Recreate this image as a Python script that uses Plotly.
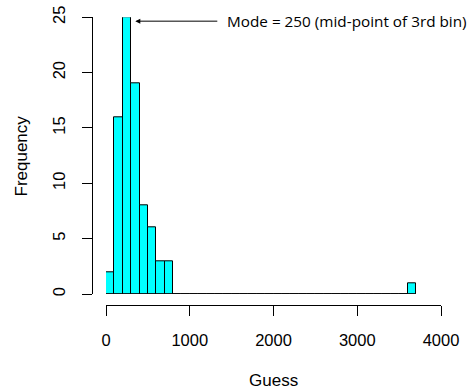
import plotly.graph_objects as go

# Data: histogram of guesses, bin width 100 starting at 0
bin_start = 0
bin_width = 100
counts = [2, 16, 25, 19, 8, 6, 3, 3,
          0, 0, 0, 0, 0, 0, 0, 0, 0, 0,
          0, 0, 0, 0, 0, 0, 0, 0, 0, 0,
          0, 0, 0, 0, 0, 0, 0, 0, 1]
x_ticks = [0, 1000, 2000, 3000, 4000]
y_ticks = [0, 5, 10, 15, 20, 25]
mode_value = 250
mode_count = 25
annotation_text = "Mode = 250 (mid-point of 3rd bin)"

edges = [bin_start + i * bin_width for i in range(len(counts) + 1)]
centers = [(edges[i] + edges[i + 1]) / 2 for i in range(len(counts))]

W, H = 471, 389
def px_x(p):
    return p / W
def px_y(p):
    return (H - p) / H

fig = go.Figure()
# baseline for zero-height bins (R draws them as flat rectangles)
fig.add_trace(go.Scatter(x=[edges[0], edges[-1]], y=[0, 0], mode="lines",
                         line=dict(color="black", width=1), cliponaxis=False,
                         hoverinfo="skip", showlegend=False))
fig.add_trace(go.Bar(x=centers, y=counts, width=bin_width,
                     marker=dict(color="#00FFFF", line=dict(color="black", width=1)),
                     cliponaxis=False, showlegend=False))

axis_font = dict(family="Liberation Sans, Arial, sans-serif", size=16.5, color="black")

fig.update_layout(
    width=W, height=H,
    margin=dict(l=0, r=0, t=0, b=0),
    paper_bgcolor="white", plot_bgcolor="white",
    bargap=0,
    xaxis=dict(domain=[px_x(106), px_x(441)], range=[x_ticks[0], x_ticks[-1]],
               anchor="free", position=px_y(305), automargin=False,
               tickvals=x_ticks, ticks="outside", ticklen=10, tickwidth=1,
               tickcolor="black", showline=True, linecolor="black", linewidth=1,
               showgrid=False, zeroline=False, tickfont=axis_font,
               ticklabelstandoff=10),
    yaxis=dict(domain=[px_y(294), px_y(17.3)], range=[y_ticks[0], y_ticks[-1]],
               anchor="free", position=px_x(91.7), automargin=False,
               tickvals=y_ticks, ticks="outside", ticklen=10, tickwidth=1,
               tickcolor="black", showline=True, linecolor="black", linewidth=1,
               showgrid=False, zeroline=False, tickfont=axis_font, tickangle=-90,
               ticklabelstandoff=10),
    annotations=[
        dict(text="Guess", xref="paper", yref="paper", x=px_x(273.5), y=px_y(380),
             showarrow=False, xanchor="center", yanchor="middle",
             font=dict(family="Liberation Sans, Arial, sans-serif", size=17, color="black")),
        dict(text="Frequency", xref="paper", yref="paper", x=px_x(20.5), y=px_y(156),
             showarrow=False, xanchor="center", yanchor="middle", textangle=-90,
             font=dict(family="Liberation Sans, Arial, sans-serif", size=17, color="black")),
        dict(text=annotation_text, xref="x", yref="y",
             x=mode_value + bin_width, y=mode_count - 0.35,
             showarrow=True, axref="pixel", ayref="pixel", ax=90, ay=0,
             xanchor="left", yanchor="middle",
             arrowhead=2, arrowsize=1, arrowwidth=1, arrowcolor="black",
             startstandoff=8,
             font=dict(family="Open Sans, sans-serif", size=15.3, color="black")),
    ],
)

fig.write_html("out.html", config={"displayModeBar": False},
               post_script="document.body.style.margin='0';document.body.style.overflow='hidden';")
